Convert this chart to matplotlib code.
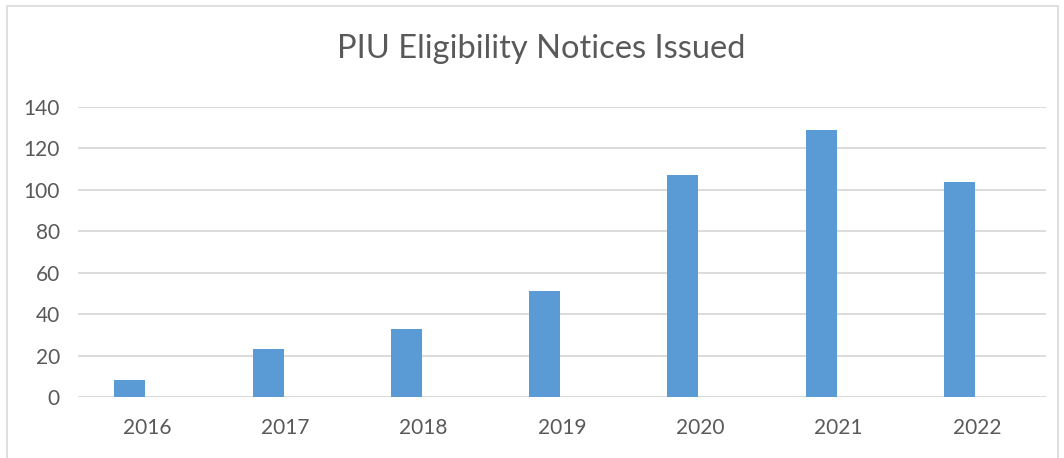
import numpy as np
from matplotlib import pyplot as plt
from matplotlib.patches import Rectangle

years = ["2016", "2017", "2018", "2019", "2020", "2021", "2022"]
notices = [8, 23, 33, 51, 107, 129, 104]

barcolor = "#5b9bd5"
textcolor = "#595959"
gridcolor = "#d9d9d9"

plt.rcParams["font.family"] = ["Lato", "DejaVu Sans"]

fig = plt.figure(figsize=(10.64, 4.58), dpi=100)
ax = fig.add_axes([0.0733, 0.1332, 0.9097, 0.6332])

x = np.arange(len(years))
ax.bar(x - 0.125, notices, width=0.225, color=barcolor, zorder=3)

ax.set_xlim(-0.5, len(years) - 0.5)
ax.set_ylim(0, 140)
ax.set_yticks(range(0, 141, 20))
ax.set_xticks(x)
ax.set_xticklabels(years)
ax.yaxis.grid(True, color=gridcolor, linewidth=1.3, zorder=0)
ax.set_axisbelow(True)
for s in ax.spines.values():
    s.set_visible(False)
ax.tick_params(axis="both", length=0, colors=textcolor, labelsize=15)
ax.tick_params(axis="y", pad=13)
ax.tick_params(axis="x", pad=15)

fig.text(0.5085, 0.893, "PIU Eligibility Notices Issued", ha="center", va="center",
         fontsize=23.5, color=textcolor)

# light frame round the chart area
fig.patches.append(Rectangle((0.0066, -0.01), 0.9877, 0.997, transform=fig.transFigure,
                             fill=False, edgecolor=gridcolor, linewidth=1.2))

plt.savefig("out.png", dpi=100)
